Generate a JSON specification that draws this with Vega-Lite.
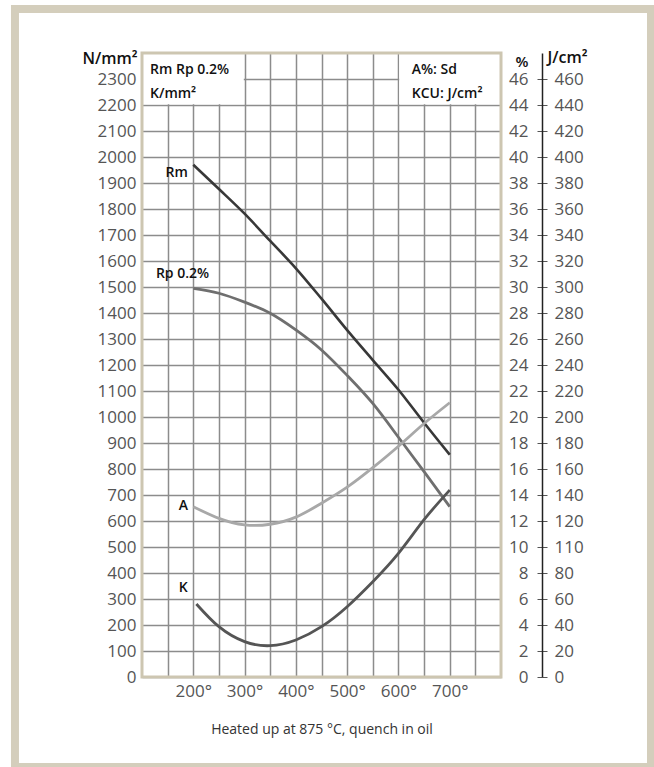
{
  "$schema": "https://vega.github.io/schema/vega-lite/v6.json",
  "width": 359,
  "height": 624,
  "autosize": "none",
  "padding": {"left": 142, "top": 53, "right": 153, "bottom": 90},
  "background": "#ffffff",
  "config": {
    "view": {"stroke": null},
    "font": "Open Sans",
    "axis": {
      "labelFont": "Open Sans",
      "titleFont": "Open Sans",
      "labelColor": "#555555",
      "labelFontSize": 17,
      "domain": false,
      "ticks": false,
      "gridColor": "#8c8c8c",
      "gridWidth": 1.5,
      "gridOpacity": 1
    }
  },
  "datasets": {
    "strength": [
      {"series": "Rm", "temp": 200, "value": 1970},
      {"series": "Rm", "temp": 250, "value": 1877},
      {"series": "Rm", "temp": 300, "value": 1782},
      {"series": "Rm", "temp": 350, "value": 1677},
      {"series": "Rm", "temp": 400, "value": 1572},
      {"series": "Rm", "temp": 450, "value": 1455},
      {"series": "Rm", "temp": 500, "value": 1334},
      {"series": "Rm", "temp": 550, "value": 1219},
      {"series": "Rm", "temp": 600, "value": 1105},
      {"series": "Rm", "temp": 650, "value": 978},
      {"series": "Rm", "temp": 700, "value": 855},
      {"series": "Rp 0.2%", "temp": 200, "value": 1495},
      {"series": "Rp 0.2%", "temp": 250, "value": 1476},
      {"series": "Rp 0.2%", "temp": 300, "value": 1442},
      {"series": "Rp 0.2%", "temp": 350, "value": 1399},
      {"series": "Rp 0.2%", "temp": 400, "value": 1335},
      {"series": "Rp 0.2%", "temp": 450, "value": 1258},
      {"series": "Rp 0.2%", "temp": 500, "value": 1160},
      {"series": "Rp 0.2%", "temp": 550, "value": 1052},
      {"series": "Rp 0.2%", "temp": 600, "value": 922},
      {"series": "Rp 0.2%", "temp": 650, "value": 790},
      {"series": "Rp 0.2%", "temp": 700, "value": 655}
    ],
    "elongation": [
      {"temp": 200, "pct": 13.1},
      {"temp": 250, "pct": 12.2},
      {"temp": 300, "pct": 11.7},
      {"temp": 350, "pct": 11.75},
      {"temp": 400, "pct": 12.3},
      {"temp": 450, "pct": 13.36},
      {"temp": 500, "pct": 14.6},
      {"temp": 550, "pct": 16.1},
      {"temp": 600, "pct": 17.75},
      {"temp": 650, "pct": 19.5},
      {"temp": 700, "pct": 21.1}
    ],
    "impact": [
      {"temp": 206, "j": 56.2},
      {"temp": 250, "j": 38.7},
      {"temp": 300, "j": 27.2},
      {"temp": 350, "j": 24.1},
      {"temp": 400, "j": 28.5},
      {"temp": 450, "j": 38.7},
      {"temp": 500, "j": 54.1},
      {"temp": 550, "j": 73.3},
      {"temp": 600, "j": 95.1},
      {"temp": 650, "j": 121},
      {"temp": 700, "j": 143.8}
    ],
    "curveLabels": [
      {"label": "Rm", "temp": 167.6, "value": 1938},
      {"label": "Rp 0.2%", "temp": 179, "value": 1550},
      {"label": "A", "temp": 180.5, "value": 658},
      {"label": "K", "temp": 180.5, "value": 342}
    ],
    "boxLabels": [
      {"label": "Rm Rp 0.2%", "temp": 115.6, "value": 2335},
      {"label": "K/mm²", "temp": 115.6, "value": 2244},
      {"label": "A%: Sd", "temp": 626, "value": 2335},
      {"label": "KCU: J/cm²", "temp": 626, "value": 2244}
    ]
  },
  "layer": [
    {
      "data": {"name": "strength"},
      "mark": {"type": "line", "strokeWidth": 0, "opacity": 0},
      "encoding": {
        "x": {
          "field": "temp",
          "type": "quantitative",
          "scale": {"domain": [100, 800], "nice": false, "zero": false},
          "axis": {
            "values": [200, 300, 400, 500, 600, 700],
            "labelExpr": "datum.label + '°'",
            "grid": true,
            "labelPadding": 6,
            "labelFlush": false,
            "labelOverlap": false,
            "title": "Heated up at 875 °C, quench in oil",
            "titleFontSize": 14,
            "titleFontWeight": "normal",
            "titleColor": "#333333",
            "titlePadding": 23
          }
        },
        "y": {
          "field": "value",
          "type": "quantitative",
          "scale": {"domain": [0, 2400], "nice": false, "zero": true},
          "axis": {
            "values": [0, 100, 200, 300, 400, 500, 600, 700, 800, 900, 1000, 1100, 1200, 1300, 1400, 1500, 1600, 1700, 1800, 1900, 2000, 2100, 2200, 2300],
            "format": "d",
            "grid": true,
            "labelPadding": 6,
            "labelFlush": false,
            "labelOverlap": false,
            "title": "N/mm²",
            "titleAngle": 0,
            "titleAlign": "right",
            "titleBaseline": "alphabetic",
            "titleX": -5,
            "titleY": 10,
            "titleFontSize": 16,
            "titleFontWeight": 600,
            "titleColor": "#111111"
          }
        },
        "detail": {"field": "series"}
      }
    },
    {
      "data": {"values": [{}]},
      "mark": {"type": "rect", "fill": "#ffffff", "strokeWidth": 0},
      "encoding": {
        "x": {
          "datum": 100,
          "type": "quantitative",
          "scale": {"domain": [100, 800], "nice": false, "zero": false},
          "axis": {
            "values": [150, 250, 350, 450, 550, 650, 750],
            "grid": true,
            "labels": false,
            "ticks": false,
            "domain": false,
            "title": null
          }
        },
        "x2": {"datum": 298.5},
        "y": {"datum": 2203, "type": "quantitative", "scale": {"domain": [0, 2400], "nice": false, "zero": true}, "axis": null},
        "y2": {"datum": 2400}
      }
    },
    {
      "data": {"values": [{}]},
      "mark": {"type": "rect", "fill": "#ffffff", "strokeWidth": 0},
      "encoding": {
        "x": {"datum": 601.5, "type": "quantitative", "scale": {"domain": [100, 800], "nice": false, "zero": false}, "axis": null},
        "x2": {"datum": 800},
        "y": {"datum": 2203, "type": "quantitative", "scale": {"domain": [0, 2400], "nice": false, "zero": true}, "axis": null},
        "y2": {"datum": 2400}
      }
    },
    {
      "data": {"values": [{}]},
      "mark": {"type": "rect", "filled": false, "stroke": "#cdc6b1", "strokeWidth": 3},
      "encoding": {
        "x": {"datum": 100, "type": "quantitative", "scale": {"domain": [100, 800], "nice": false, "zero": false}, "axis": null},
        "x2": {"datum": 800},
        "y": {"datum": 0, "type": "quantitative", "scale": {"domain": [0, 2400], "nice": false, "zero": true}, "axis": null},
        "y2": {"datum": 2400}
      }
    },
    {
      "data": {"values": [{}]},
      "mark": {"type": "rect", "filled": false, "stroke": "#d4cebc", "strokeWidth": 8, "clip": false},
      "encoding": {
        "x": {"datum": -147.7, "type": "quantitative", "scale": {"domain": [100, 800], "nice": false, "zero": false}, "axis": null},
        "x2": {"datum": 1092.5},
        "y": {"datum": -346, "type": "quantitative", "scale": {"domain": [0, 2400], "nice": false, "zero": true}, "axis": null},
        "y2": {"datum": 2569}
      }
    },
    {
      "data": {"name": "strength"},
      "transform": [{"filter": "datum.series == 'Rm'"}],
      "mark": {"type": "line", "interpolate": "monotone", "strokeWidth": 2.6, "color": "#383838"},
      "encoding": {
        "x": {"field": "temp", "type": "quantitative", "scale": {"domain": [100, 800], "nice": false, "zero": false}, "axis": null},
        "y": {"field": "value", "type": "quantitative", "scale": {"domain": [0, 2400], "nice": false, "zero": true}, "axis": null}
      }
    },
    {
      "data": {"name": "strength"},
      "transform": [{"filter": "datum.series == 'Rp 0.2%'"}],
      "mark": {"type": "line", "interpolate": "natural", "strokeWidth": 2.8, "color": "#6f6f6f"},
      "encoding": {
        "x": {"field": "temp", "type": "quantitative", "scale": {"domain": [100, 800], "nice": false, "zero": false}, "axis": null},
        "y": {"field": "value", "type": "quantitative", "scale": {"domain": [0, 2400], "nice": false, "zero": true}, "axis": null}
      }
    },
    {
      "data": {"name": "curveLabels"},
      "mark": {"type": "text", "align": "center", "baseline": "middle", "fontSize": 14, "fontWeight": 600, "color": "#111111", "font": "Open Sans"},
      "encoding": {
        "x": {"field": "temp", "type": "quantitative", "scale": {"domain": [100, 800], "nice": false, "zero": false}, "axis": null},
        "y": {"field": "value", "type": "quantitative", "scale": {"domain": [0, 2400], "nice": false, "zero": true}, "axis": null},
        "text": {"field": "label"}
      }
    },
    {
      "data": {"name": "boxLabels"},
      "mark": {"type": "text", "align": "left", "baseline": "middle", "fontSize": 14, "fontWeight": 600, "color": "#111111", "font": "Open Sans"},
      "encoding": {
        "x": {"field": "temp", "type": "quantitative", "scale": {"domain": [100, 800], "nice": false, "zero": false}, "axis": null},
        "y": {"field": "value", "type": "quantitative", "scale": {"domain": [0, 2400], "nice": false, "zero": true}, "axis": null},
        "text": {"field": "label"}
      }
    },
    {
      "data": {"name": "elongation"},
      "mark": {"type": "line", "interpolate": "natural", "strokeWidth": 2.8, "color": "#a8a8a8"},
      "encoding": {
        "x": {"field": "temp", "type": "quantitative", "scale": {"domain": [100, 800], "nice": false, "zero": false}, "axis": null},
        "y": {
          "field": "pct",
          "type": "quantitative",
          "scale": {"domain": [0, 48], "nice": false, "zero": true},
          "axis": {
            "orient": "left",
            "offset": -400,
            "values": [0, 2, 4, 6, 8, 10, 12, 14, 16, 18, 20, 22, 24, 26, 28, 30, 32, 34, 36, 38, 40, 42, 44, 46],
            "grid": false,
            "ticks": true,
            "tickSize": 5,
            "tickColor": "#555555",
            "tickWidth": 1,
            "labelPadding": 9,
            "labelFlush": false,
            "labelOverlap": false,
            "domain": false,
            "title": "%",
            "titleAngle": 0,
            "titleAlign": "right",
            "titleBaseline": "alphabetic",
            "titleX": -14,
            "titleY": 13.5,
            "titleFontSize": 15,
            "titleFontWeight": 600,
            "titleColor": "#111111"
          }
        }
      }
    },
    {
      "data": {"name": "impact"},
      "mark": {"type": "line", "interpolate": "natural", "strokeWidth": 2.8, "color": "#555555"},
      "encoding": {
        "x": {"field": "temp", "type": "quantitative", "scale": {"domain": [100, 800], "nice": false, "zero": false}, "axis": null},
        "y": {
          "field": "j",
          "type": "quantitative",
          "scale": {"domain": [0, 480], "nice": false, "zero": true},
          "axis": {
            "orient": "right",
            "offset": 41,
            "values": [0, 20, 40, 60, 80, 100, 120, 140, 160, 180, 200, 220, 240, 260, 280, 300, 320, 340, 360, 380, 400, 420, 440, 460],
            "labelExpr": "datum.value == 100 ? '110' : datum.label",
            "grid": false,
            "ticks": true,
            "tickSize": 5,
            "tickColor": "#555555",
            "tickWidth": 1,
            "labelPadding": 7,
            "labelFlush": false,
            "labelOverlap": false,
            "domain": true,
            "domainColor": "#222222",
            "domainWidth": 1.5,
            "title": "J/cm²",
            "titleAngle": 0,
            "titleAlign": "left",
            "titleBaseline": "alphabetic",
            "titleX": 5,
            "titleY": 9.5,
            "titleFontSize": 16,
            "titleFontWeight": 600,
            "titleColor": "#111111"
          }
        }
      }
    }
  ],
  "resolve": {"scale": {"x": "independent", "y": "independent"}, "axis": {"x": "independent", "y": "independent"}}
}
